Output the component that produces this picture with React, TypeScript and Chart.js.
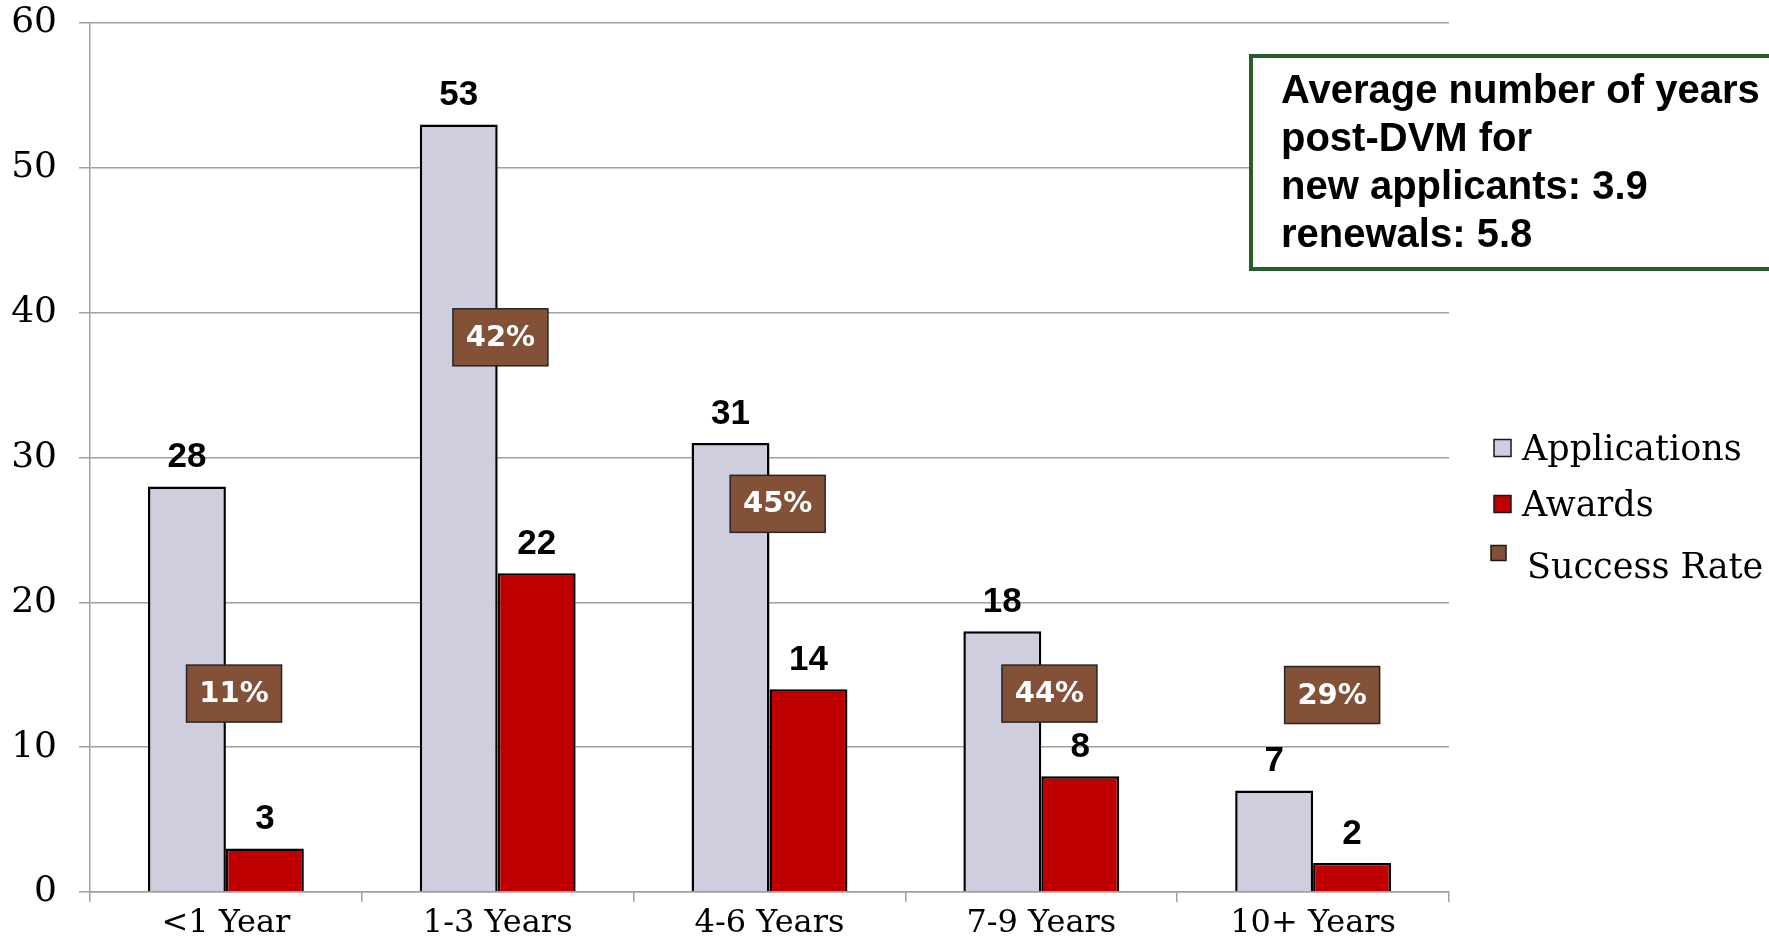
import React, { useEffect, useRef } from "react";
import { Chart, registerables } from "chart.js";

Chart.register(...registerables);

// ---- data ----
const categories = ["<1 Year", "1-3 Years", "4-6 Years", "7-9 Years", "10+ Years"];
const applications = [28, 53, 31, 18, 7];
const awards = [3, 22, 14, 8, 2];
const successRate = [11, 42, 45, 44, 29];
const yMax = 60;
const yStep = 10;
const noteLines = [
  "Average number of years",
  "post-DVM for",
  "new applicants: 3.9",
  "renewals: 5.8",
];
// label placement for the success-rate boxes (y in axis units, x offset in category units)
const rateLabelY = [13.7, 38.3, 26.8, 13.7, 13.6];
const rateLabelDX = [0.03, 0.01, 0.03, 0.03, 0.07];

const SERIF = "'DejaVu Serif', serif";
const SANS = "'Liberation Sans', Arial, sans-serif";

const labelsPlugin = {
  id: "customLabels",
  afterDatasetsDraw(chart: any) {
    const ctx = chart.ctx;
    const xs = chart.scales.x;
    const ys = chart.scales.y;
    ctx.save();
    // value labels above bars
    ctx.font = `bold 35px ${SANS}`;
    ctx.fillStyle = "#000";
    ctx.textAlign = "center";
    ctx.textBaseline = "middle";
    [0, 1].forEach((di) => {
      const meta = chart.getDatasetMeta(di);
      meta.data.forEach((bar: any, i: number) => {
        ctx.fillText(String(chart.data.datasets[di].data[i]), bar.x, bar.y - 29);
      });
    });
    // success rate boxes
    const ds = chart.data.datasets[2];
    ds.data.forEach((r: number, i: number) => {
      const cx = xs.getPixelForValue(i + rateLabelDX[i]);
      const cy = ys.getPixelForValue(rateLabelY[i]);
      const w = 95, h = 57;
      ctx.fillStyle = ds.backgroundColor;
      ctx.fillRect(cx - w / 2, cy - h / 2, w, h);
      ctx.lineWidth = 1.5;
      ctx.strokeStyle = "#262626";
      ctx.strokeRect(cx - w / 2, cy - h / 2, w, h);
      ctx.fillStyle = "#fff";
      ctx.font = `bold 29px 'DejaVu Sans', sans-serif`;
      ctx.fillText(r + "%", cx, cy + 1);
    });
    ctx.restore();
  },
  afterDraw(chart: any) {
    const ctx = chart.ctx;
    ctx.save();
    // legend
    const items = chart.data.datasets;
    const legendY = [448, 504, 553];
    const textY = [451, 507, 569];
    const sqX = [1494, 1494, 1491];
    const txX = [1522, 1522, 1527];
    const sq = [17, 17, 15];
    items.forEach((d: any, i: number) => {
      ctx.fillStyle = d.backgroundColor;
      ctx.fillRect(sqX[i], legendY[i] - sq[i] / 2, sq[i], sq[i]);
      ctx.lineWidth = 1.5;
      ctx.strokeStyle = "#1a1a1a";
      ctx.strokeRect(sqX[i], legendY[i] - sq[i] / 2, sq[i], sq[i]);
      ctx.fillStyle = "#000";
      ctx.font = `35px ${SERIF}`;
      ctx.textAlign = "left";
      ctx.textBaseline = "middle";
      ctx.fillText(d.label, txX[i], textY[i]);
    });
    // note box
    ctx.fillStyle = "#fff";
    ctx.fillRect(1251, 56, 600, 213);
    ctx.lineWidth = 4;
    ctx.strokeStyle = "#275E27";
    ctx.strokeRect(1251, 56, 600, 213);
    ctx.fillStyle = "#000";
    ctx.font = `bold 40px ${SANS}`;
    ctx.textAlign = "left";
    ctx.textBaseline = "middle";
    noteLines.forEach((t, i) => ctx.fillText(t, 1281, 92 + i * 48));
    ctx.restore();
  },
};

export default function App() {
  const ref = useRef<HTMLCanvasElement | null>(null);
  useEffect(() => {
    document.body.style.margin = "0";
    const canvas = ref.current!;
    const chart = new Chart(canvas, {
      type: "bar",
      data: {
        labels: categories,
        datasets: [
          {
            label: "Applications",
            data: applications,
            backgroundColor: "#CECEDF",
            borderColor: "#000",
            borderWidth: 2.5,
            borderSkipped: "bottom",
            yAxisID: "y",
          },
          {
            label: "Awards",
            data: awards,
            backgroundColor: "#C00000",
            borderColor: "#000",
            borderWidth: 2.5,
            borderSkipped: "bottom",
            yAxisID: "y",
          },
          {
            type: "line",
            label: "Success Rate",
            data: successRate,
            backgroundColor: "#835137",
            borderColor: "#835137",
            showLine: false,
            pointRadius: 0,
            yAxisID: "yRate",
          } as any,
        ],
      },
      options: {
        responsive: false,
        animation: false,
        datasets: { bar: { barPercentage: 1, categoryPercentage: 0.5735 } },
        layout: { padding: { top: 23, right: 320, bottom: 0, left: 0 } },
        plugins: { legend: { display: false }, tooltip: { enabled: false } },
        scales: {
          x: {
            grid: {
              display: true,
              drawOnChartArea: false,
              drawTicks: true,
              tickLength: 10,
              color: "#A0A0A0",
              lineWidth: 1.5,
            },
            border: { display: true, color: "#A0A0A0", width: 1.5, z: 1 },
            ticks: { font: { family: SERIF, size: 32 }, color: "#000", padding: 2 },
            afterFit(s: any) {
              s.height = 52;
              s.paddingLeft = 0;
              s.paddingRight = 0;
            },
          },
          y: {
            min: 0,
            max: yMax,
            ticks: { stepSize: yStep, font: { family: SERIF, size: 36 }, color: "#000", padding: 22 },
            grid: { color: "#A0A0A0", lineWidth: 1.5, tickLength: 11 },
            border: { display: true, color: "#A0A0A0", width: 1.5 },
            afterFit(s: any) {
              s.width = 90;
              s.paddingTop = 0;
              s.paddingBottom = 0;
            },
          },
          yRate: { display: false, min: 0, max: 100 },
        },
      },
      plugins: [labelsPlugin],
    });
    return () => chart.destroy();
  }, []);
  return (
    <div style={{ width: 1769, height: 944 }}>
      <canvas ref={ref} width={1769} height={944} />
    </div>
  );
}
